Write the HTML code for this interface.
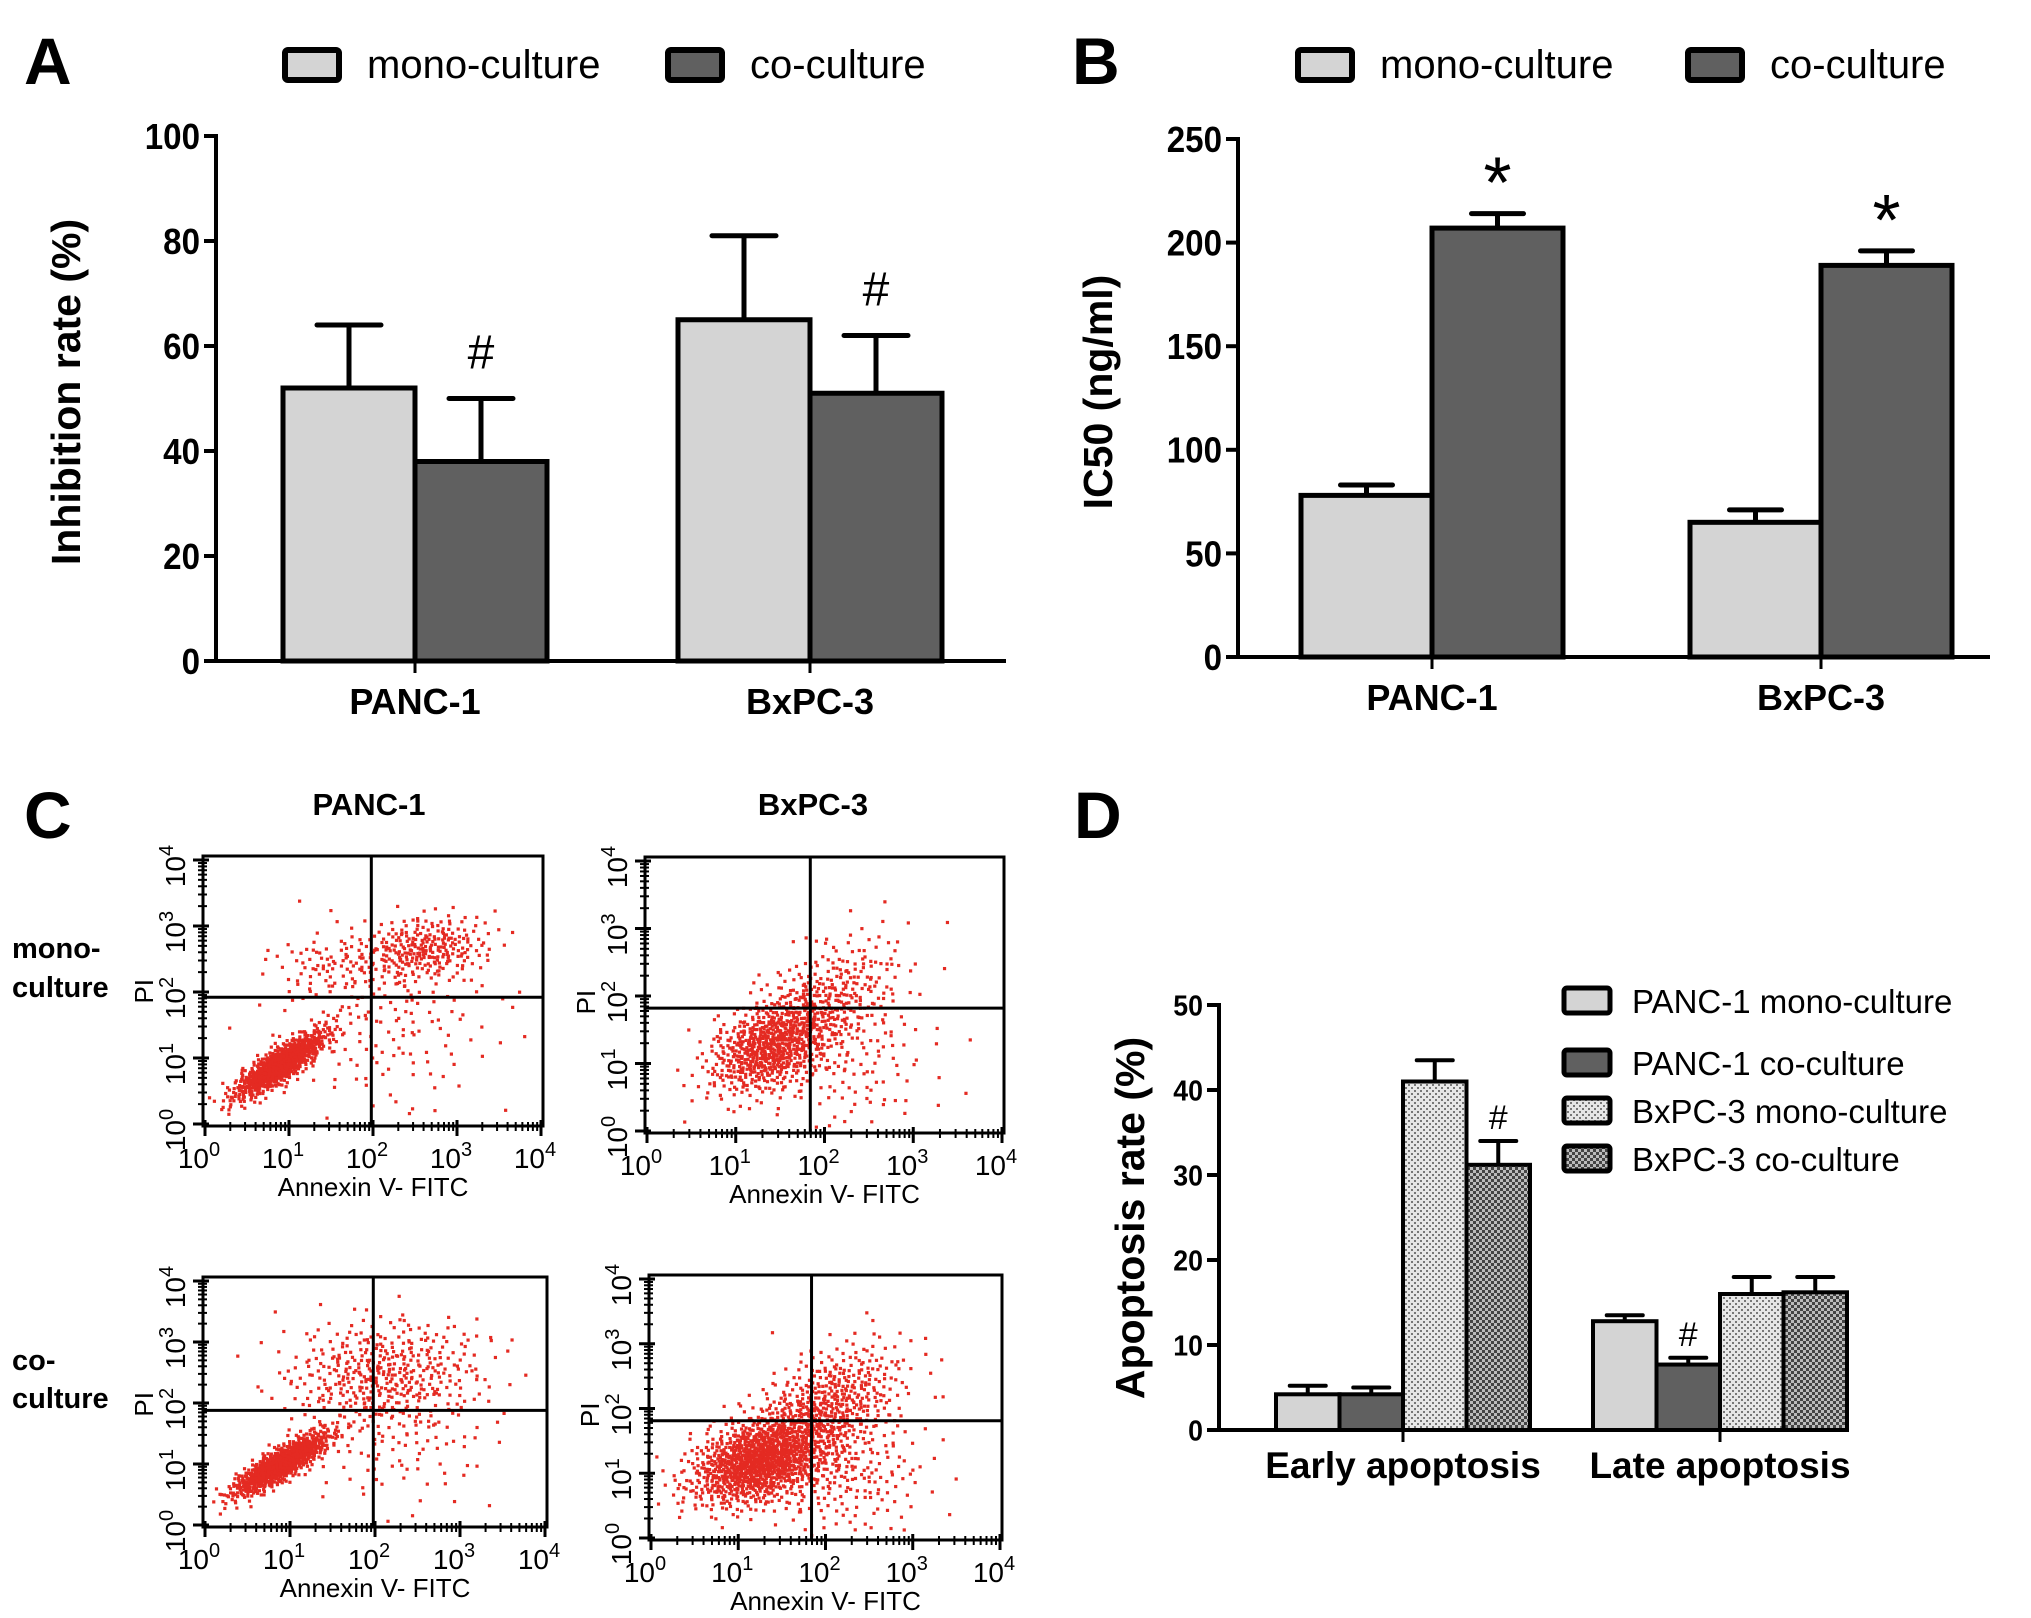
<!DOCTYPE html>
<html><head><meta charset="utf-8"><style>
html,body{margin:0;padding:0;background:#fff;}
svg{display:block;font-family:"Liberation Sans",Arial,sans-serif;}
</style></head><body>
<svg id="fig" width="2031" height="1618" viewBox="0 0 2031 1618" xmlns="http://www.w3.org/2000/svg">
<defs>
<pattern id="dots" width="6" height="6" patternUnits="userSpaceOnUse"><rect width="6" height="6" fill="#e6e6e6"/><rect x="1" y="1" width="2" height="2" fill="#777"/><rect x="4" y="4" width="2" height="2" fill="#777"/></pattern>
<pattern id="check" width="6" height="6" patternUnits="userSpaceOnUse"><rect width="6" height="6" fill="#bbb"/><rect x="0" y="0" width="3" height="3" fill="#444"/><rect x="3" y="3" width="3" height="3" fill="#444"/></pattern>
</defs>
<g id="layer"></g>
</svg>
<script>
// ---------- Panel A data ----------
const aCategories = ["PANC-1", "BxPC-3"];
const aMono = [52, 65];
const aMonoErr = [64, 81];
const aCo = [38, 51];
const aCoErr = [50, 62];
const aTicks = [0, 20, 40, 60, 80, 100];
// ---------- Panel B data ----------
const bCategories = ["PANC-1", "BxPC-3"];
const bMono = [78, 65];
const bMonoErr = [83, 71];
const bCo = [207, 189];
const bCoErr = [214, 196];
const bTicks = [0, 50, 100, 150, 200, 250];
// ---------- Panel D data ----------
const dCategories = ["Early apoptosis", "Late apoptosis"];
const dSeriesNames = ["PANC-1 mono-culture", "PANC-1 co-culture", "BxPC-3 mono-culture", "BxPC-3 co-culture"];
const dPancMono = [4.2, 12.8];
const dPancMonoErr = [5.2, 13.5];
const dPancCo = [4.2, 7.7];
const dPancCoErr = [5.0, 8.5];
const dBxMono = [41, 16];
const dBxMonoErr = [43.5, 18];
const dBxCo = [31.2, 16.2];
const dBxCoErr = [34, 18];
const dTicks = [0, 10, 20, 30, 40, 50];
// ---------- Panel C flow clusters (log decades: cx, cy, sdx, sdy, rho, count) ----------
const cPancMonoClusters = [[0.9,0.9,0.28,0.26,0.85,800],[2.6,2.65,0.4,0.25,0.2,260],[2.2,1.6,0.7,0.7,0,160],[1.5,2.4,0.35,0.25,0,70]];
const cBxMonoClusters = [[1.4,1.25,0.35,0.35,0.4,650],[2.0,1.9,0.45,0.5,0.5,320],[2.3,1.0,0.5,0.6,0,120]];
const cPancCoClusters = [[0.9,1.0,0.28,0.26,0.85,850],[2.1,2.5,0.6,0.45,0.1,400],[2.3,1.5,0.6,0.6,0,120]];
const cBxCoClusters = [[1.25,1.2,0.4,0.35,0.4,1100],[2.0,2.0,0.45,0.5,0.5,500],[2.2,1.0,0.5,0.5,0,200]];
const cQuadX = [1.98, 1.84, 1.98, 1.84];
const cQuadY = [1.92, 1.82, 1.88, 1.81];

const NS = "http://www.w3.org/2000/svg";
const layer = document.getElementById('layer');
function el(tag, attrs, parent) {
  const e = document.createElementNS(NS, tag);
  for (const k in attrs) e.setAttribute(k, attrs[k]);
  (parent || layer).appendChild(e);
  return e;
}
function txt(s, attrs, parent) { const t = el('text', attrs, parent); t.textContent = s; return t; }

[["A",24,84],["B",1072,84],["C",24,838],["D",1074,838]].forEach(p => {
  const t = txt(p[0], {x:p[1], y:p[2], 'font-size':66, 'font-weight':'bold'});
  
  
});

function barChart(cfg) {
  const g = el('g', {});
  
  
  const ys = v => cfg.y0 - (v - cfg.min) / (cfg.max - cfg.min) * (cfg.y0 - cfg.yTop);
  cfg.ticks.forEach(t => {
    const y = ys(t);
    el('line', {x1:cfg.x0 - 12, x2:cfg.x0, y1:y, y2:y, stroke:'#000', 'stroke-width':4}, g);
    const lab = txt(String(t), {x:cfg.x0 - 16, y:y + cfg.tickFs*0.36, 'font-size':cfg.tickFs, 'font-weight':'bold', 'text-anchor':'end', transform:`translate(${cfg.x0-16},0) scale(${cfg.tickSx},1) translate(${-(cfg.x0-16)},0)`}, g);
    
    
  });
  cfg.series.forEach((s, si) => {
    s.values.forEach((v, ci) => {
      const xl = cfg.groupX[ci] + cfg.barW * (si - cfg.series.length / 2);
      const yt = ys(v);
      const r = el('rect', {x:xl, y:yt, width:cfg.barW, height:cfg.y0 - yt, fill:s.fill, stroke:'#000', 'stroke-width':cfg.sw}, g);
      
      
      const cx = xl + cfg.barW / 2, ye = ys(s.err[ci]);
      el('line', {x1:cx, x2:cx, y1:yt, y2:ye, stroke:'#000', 'stroke-width':cfg.sw}, g);
      el('line', {x1:cx - cfg.cap, x2:cx + cfg.cap, y1:ye, y2:ye, stroke:'#000', 'stroke-width':cfg.sw, 'stroke-linecap':'round'}, g);
      if (s.marks && s.marks[ci]) {
        const m = txt(s.marks[ci], {x:cx, y:ye - cfg.markGap, 'font-size':cfg.markFs, 'text-anchor':'middle'}, g);
        
        
      }
    });
  });
  el('line', {x1:cfg.x0, x2:cfg.x0, y1:cfg.yTop - 2, y2:cfg.y0 + 2, stroke:'#000', 'stroke-width':4}, g);
  el('line', {x1:cfg.x0, x2:cfg.xEnd, y1:cfg.y0, y2:cfg.y0, stroke:'#000', 'stroke-width':4}, g);
  cfg.categories.forEach((c, ci) => {
    el('line', {x1:cfg.groupX[ci], x2:cfg.groupX[ci], y1:cfg.y0, y2:cfg.y0 + 12, stroke:'#000', 'stroke-width':3}, g);
    const l = txt(c, {x:cfg.groupX[ci], y:cfg.catY, 'font-size':cfg.catFs, 'font-weight':'bold', 'text-anchor':'middle'}, g);
    
    
  });
  const yt = txt(cfg.yTitle, {x:0, y:0, 'font-size':cfg.titleFs, 'font-weight':'bold', 'text-anchor':'middle', transform:`translate(${cfg.titleX},${cfg.titleY}) rotate(-90)`}, g);
  
  
}

function legend2(x1, x2, name) {
  const g = el('g', {});
  
  
  [[x1, '#d4d4d4', 'mono-culture'], [x2, '#606060', 'co-culture']].forEach(e => {
    const b = el('rect', {x:e[0], y:50, width:54, height:30, fill:e[1], stroke:'#000', 'stroke-width':6, rx:3}, g);
    
    
    const t = txt(e[2], {x:e[0] + 82, y:78, 'font-size':40}, g);
    
    
  });
}

legend2(285, 668, 'legend-a');
barChart({name:'chart-a', x0:216, xEnd:1006, y0:661, yTop:136, min:0, max:100, ticks:aTicks, tickFs:36, tickSx:0.92,
  categories:aCategories, groupX:[415, 810], barW:132, sw:5, cap:32, markFs:48, markGap:30,
  series:[{key:'mono', values:aMono, err:aMonoErr, fill:'#d4d4d4'}, {key:'co', values:aCo, err:aCoErr, fill:'#606060', marks:['#','#']}],
  catY:714, catFs:36, yTitle:'Inhibition rate (%)', titleX:80, titleY:392, titleFs:41});

legend2(1298, 1688, 'legend-b');
barChart({name:'chart-b', x0:1238, xEnd:1990, y0:657, yTop:139, min:0, max:250, ticks:bTicks, tickFs:36, tickSx:0.92,
  categories:bCategories, groupX:[1432, 1821], barW:131, sw:5, cap:26, markFs:72, markGap:6,
  series:[{key:'mono', values:bMono, err:bMonoErr, fill:'#d4d4d4'}, {key:'co', values:bCo, err:bCoErr, fill:'#606060', marks:['*','*']}],
  catY:710, catFs:36, yTitle:'IC50 (ng/ml)', titleX:1112, titleY:392, titleFs:41});

barChart({name:'chart-d', x0:1219, xEnd:1848, y0:1430, yTop:1005, min:0, max:50, ticks:dTicks, tickFs:29, tickSx:0.92,
  categories:dCategories, groupX:[1403, 1720], barW:63.5, sw:4, cap:18, markFs:34, markGap:12,
  series:[{key:'panc-mono', values:dPancMono, err:dPancMonoErr, fill:'#d4d4d4'},
          {key:'panc-co', values:dPancCo, err:dPancCoErr, fill:'#606060', marks:['', '#']},
          {key:'bx-mono', values:dBxMono, err:dBxMonoErr, fill:'url(#dots)'},
          {key:'bx-co', values:dBxCo, err:dBxCoErr, fill:'url(#check)', marks:['#','']}],
  catY:1478, catFs:37, yTitle:'Apoptosis rate (%)', titleX:1144, titleY:1218, titleFs:41});
(function(){
  const g = el('g', {});
  
  
  const fills = ['#d4d4d4', '#606060', 'url(#dots)', 'url(#check)'];
  const ys = [1001, 1063, 1111, 1159];
  dSeriesNames.forEach((n, i) => {
    const b = el('rect', {x:1564, y:ys[i] - 13, width:46, height:25, fill:fills[i], stroke:'#000', 'stroke-width':5, rx:3}, g);
    
    
    const t = txt(n, {x:1632, y:ys[i] + 12, 'font-size':33}, g);
    
    
  });
})();

const cTitles = [["PANC-1", 369], ["BxPC-3", 813]];
cTitles.forEach(t => {
  const e = txt(t[0], {x:t[1], y:815, 'font-size':31, 'font-weight':'bold', 'text-anchor':'middle'});
  
  
});
[["mono-", 958], ["culture", 997], ["co-", 1370], ["culture", 1408]].forEach(r => {
  const e = txt(r[0], {x:12, y:r[1], 'font-size':29, 'font-weight':'bold'});
  
  
});

function halton(i, b) { let f = 1, r = 0; while (i > 0) { f /= b; r += f * (i % b); i = Math.floor(i / b); } return r; }

function flowPlot(box, clusters, qx, qy, name, seed) {
  const g = el('g', {});
  
  
  const [L, T, R, B] = box;
  const x0 = L + 2, x4 = R - 2, y0 = B - 2, y4 = T + 4;
  const xs = d => x0 + d / 4 * (x4 - x0);
  const ys = d => y0 - d / 4 * (y0 - y4);
  let idx = seed;
  clusters.forEach(c => {
    const [cx, cy, sx, sy, rho, n] = c;
    for (let k = 0; k < n; k++) {
      idx++;
      const u1 = Math.max(1e-6, halton(idx, 2)), u2 = halton(idx, 3);
      const rr = Math.sqrt(-2 * Math.log(u1));
      const z1 = rr * Math.cos(2 * Math.PI * u2), z2 = rr * Math.sin(2 * Math.PI * u2);
      let dx = cx + sx * z1, dy = cy + sy * (rho * z1 + Math.sqrt(1 - rho * rho) * z2);
      if (dx < 0 || dx > 3.9 || dy < 0 || dy > 3.9) continue;
      const d = el('rect', {x:xs(dx) - 1.5, y:ys(dy) - 1.5, width:3.2, height:3.2, fill:'#e42a22'}, g);
      
      
    }
  });
  el('rect', {x:L, y:T, width:R - L, height:B - T, fill:'none', stroke:'#000', 'stroke-width':3}, g);
  el('line', {x1:xs(qx), x2:xs(qx), y1:T, y2:B, stroke:'#000', 'stroke-width':3}, g);
  el('line', {x1:L, x2:R, y1:ys(qy), y2:ys(qy), stroke:'#000', 'stroke-width':3}, g);
  for (let d = 0; d <= 4; d++) {
    el('line', {x1:xs(d), x2:xs(d), y1:B - 6, y2:B + 10, stroke:'#000', 'stroke-width':3}, g);
    el('line', {x1:L - 10, x2:L + 6, y1:ys(d), y2:ys(d), stroke:'#000', 'stroke-width':3}, g);
    if (d < 4) for (let k = 2; k < 10; k++) {
      const v = d + Math.log10(k);
      el('line', {x1:xs(v), x2:xs(v), y1:B - 4, y2:B + 5, stroke:'#000', 'stroke-width':2}, g);
      el('line', {x1:L - 5, x2:L + 4, y1:ys(v), y2:ys(v), stroke:'#000', 'stroke-width':2}, g);
    }
    const tl = el('text', {x:xs(d) - 6, y:B + 42, 'font-size':28, 'text-anchor':'middle'}, g);
    tl.innerHTML = '10<tspan dy="-12" font-size="20">' + d + '</tspan>';
    
    
    const yl = el('text', {x:0, y:0, 'font-size':28, 'text-anchor':'middle', transform:`translate(${L - 18},${ys(d) + 6}) rotate(-90)`}, g);
    yl.innerHTML = '10<tspan dy="-12" font-size="20">' + d + '</tspan>';
    
    
  }
  const xt = txt('Annexin V- FITC', {x:(L + R) / 2, y:B + 70, 'font-size':26, 'text-anchor':'middle'}, g);
  
  
  const yt = txt('PI', {x:0, y:0, 'font-size':26, 'text-anchor':'middle', transform:`translate(${L - 50},${ys(qy) - 6}) rotate(-90)`}, g);
  
  
}
flowPlot([203, 856, 543, 1126], cPancMonoClusters, cQuadX[0], cQuadY[0], 'flow-panc-mono', 10);
flowPlot([645, 857, 1004, 1133], cBxMonoClusters, cQuadX[1], cQuadY[1], 'flow-bxpc-mono', 5000);
flowPlot([203, 1277, 547, 1527], cPancCoClusters, cQuadX[2], cQuadY[2], 'flow-panc-co', 9000);
flowPlot([649, 1275, 1002, 1540], cBxCoClusters, cQuadX[3], cQuadY[3], 'flow-bxpc-co', 14000);
</script>
</body></html>
